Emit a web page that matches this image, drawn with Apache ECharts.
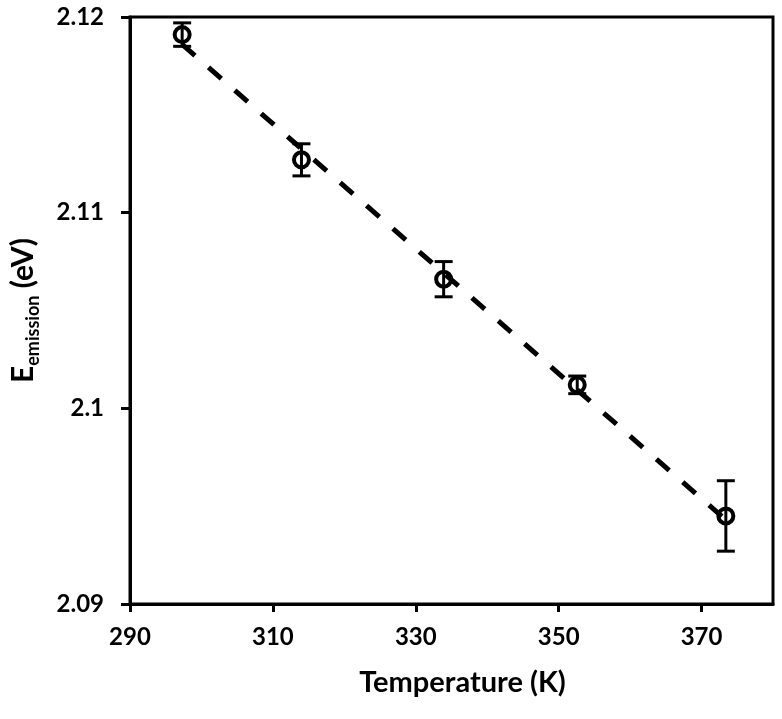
<!DOCTYPE html>
<html>
<head>
<meta charset="utf-8">
<script src="https://cdn.jsdelivr.net/npm/echarts@6/dist/echarts.min.js"></script>
<style>
html,body{margin:0;padding:0;background:#fff;}
#chart{width:782px;height:719px;}
</style>
</head>
<body>
<div id="chart"></div>
<script>
// Data
const temperatures = [297.3, 314.0, 333.9, 352.6, 373.4];
const energies = [2.1191, 2.1127, 2.1066, 2.1012, 2.0945];
const errors = [0.0006, 0.00082, 0.0009, 0.00045, 0.0018];
const trendT = [297.3, 373.4];
const trendE = [2.1186, 2.0943];
const xTicks = [290, 310, 330, 350, 370];

const FONT = 'Lato';
const chart = echarts.init(document.getElementById('chart'), null, {renderer: 'canvas'});

const scatterData = temperatures.map((t, i) => [t, energies[i]]);
const errData = temperatures.map((t, i) => [t, energies[i] - errors[i], energies[i] + errors[i]]);
const trendData = trendT.map((t, i) => [t, trendE[i]]);

const option = {
  animation: false,
  backgroundColor: '#fff',
  grid: {left: 128, right: 9, top: 17, bottom: 115, show: true, borderColor: '#000', borderWidth: 3, containLabel: false},
  xAxis: {
    type: 'value', min: 290, max: 380, interval: 20,
    splitLine: {show: false},
    axisLine: {show: true, onZero: false, lineStyle: {color: '#000', width: 3}},
    axisTick: {show: true, inside: false, length: 8, lineStyle: {color: '#000', width: 3}, customValues: xTicks},
    axisLabel: {customValues: xTicks, color: '#000', fontFamily: FONT, fontSize: 24, fontWeight: 'bold', margin: 21},
    name: 'Temperature (K)', nameLocation: 'middle', nameGap: 64,
    nameTextStyle: {color: '#000', fontFamily: FONT, fontSize: 29, fontWeight: 'bold', padding: [0, 0, 0, 22]}
  },
  yAxis: {
    type: 'value', min: 2.09, max: 2.12, interval: 0.01,
    splitLine: {show: false},
    axisLine: {show: true, onZero: false, lineStyle: {color: '#000', width: 3}},
    axisTick: {show: true, inside: false, length: 9, lineStyle: {color: '#000', width: 3}},
    axisLabel: {color: '#000', fontFamily: FONT, fontSize: 24, fontWeight: 'bold', margin: 26},
    name: '{e|E}{s|emission}{e| (eV)}', nameLocation: 'middle', nameGap: 92, nameRotate: 90,
    nameTextStyle: {
      color: '#000', fontFamily: FONT, fontWeight: 'bold',
      rich: {
        e: {fontFamily: FONT, fontSize: 30, fontWeight: 'bold', color: '#000', verticalAlign: 'bottom'},
        s: {fontFamily: FONT, fontSize: 18, fontWeight: 'bold', color: '#000', verticalAlign: 'bottom', padding: [0, 0, -4, 0]}
      }
    }
  },
  series: [
    {
      type: 'line', data: trendData, showSymbol: false, symbol: 'none',
      lineStyle: {color: '#000', width: 5, type: [17, 18], cap: 'butt'}, z: 1
    },
    {
      type: 'custom', data: errData, z: 3,
      renderItem: function (params, api) {
        const x = api.value(0);
        const pLo = api.coord([x, api.value(1)]);
        const pHi = api.coord([x, api.value(2)]);
        const hw = 9;
        const st = {stroke: '#000', lineWidth: 3};
        return {type: 'group', children: [
          {type: 'line', shape: {x1: pLo[0], y1: pLo[1], x2: pHi[0], y2: pHi[1]}, style: st},
          {type: 'line', shape: {x1: pLo[0] - hw, y1: pLo[1], x2: pLo[0] + hw, y2: pLo[1]}, style: st},
          {type: 'line', shape: {x1: pHi[0] - hw, y1: pHi[1], x2: pHi[0] + hw, y2: pHi[1]}, style: st}
        ]};
      }
    },
    {
      type: 'scatter', data: scatterData, symbol: 'circle', symbolSize: 15, z: 4,
      itemStyle: {color: 'rgba(0,0,0,0)', borderColor: '#000', borderWidth: 4, opacity: 1}
    }
  ]
};
chart.setOption(option);
</script>
</body>
</html>
